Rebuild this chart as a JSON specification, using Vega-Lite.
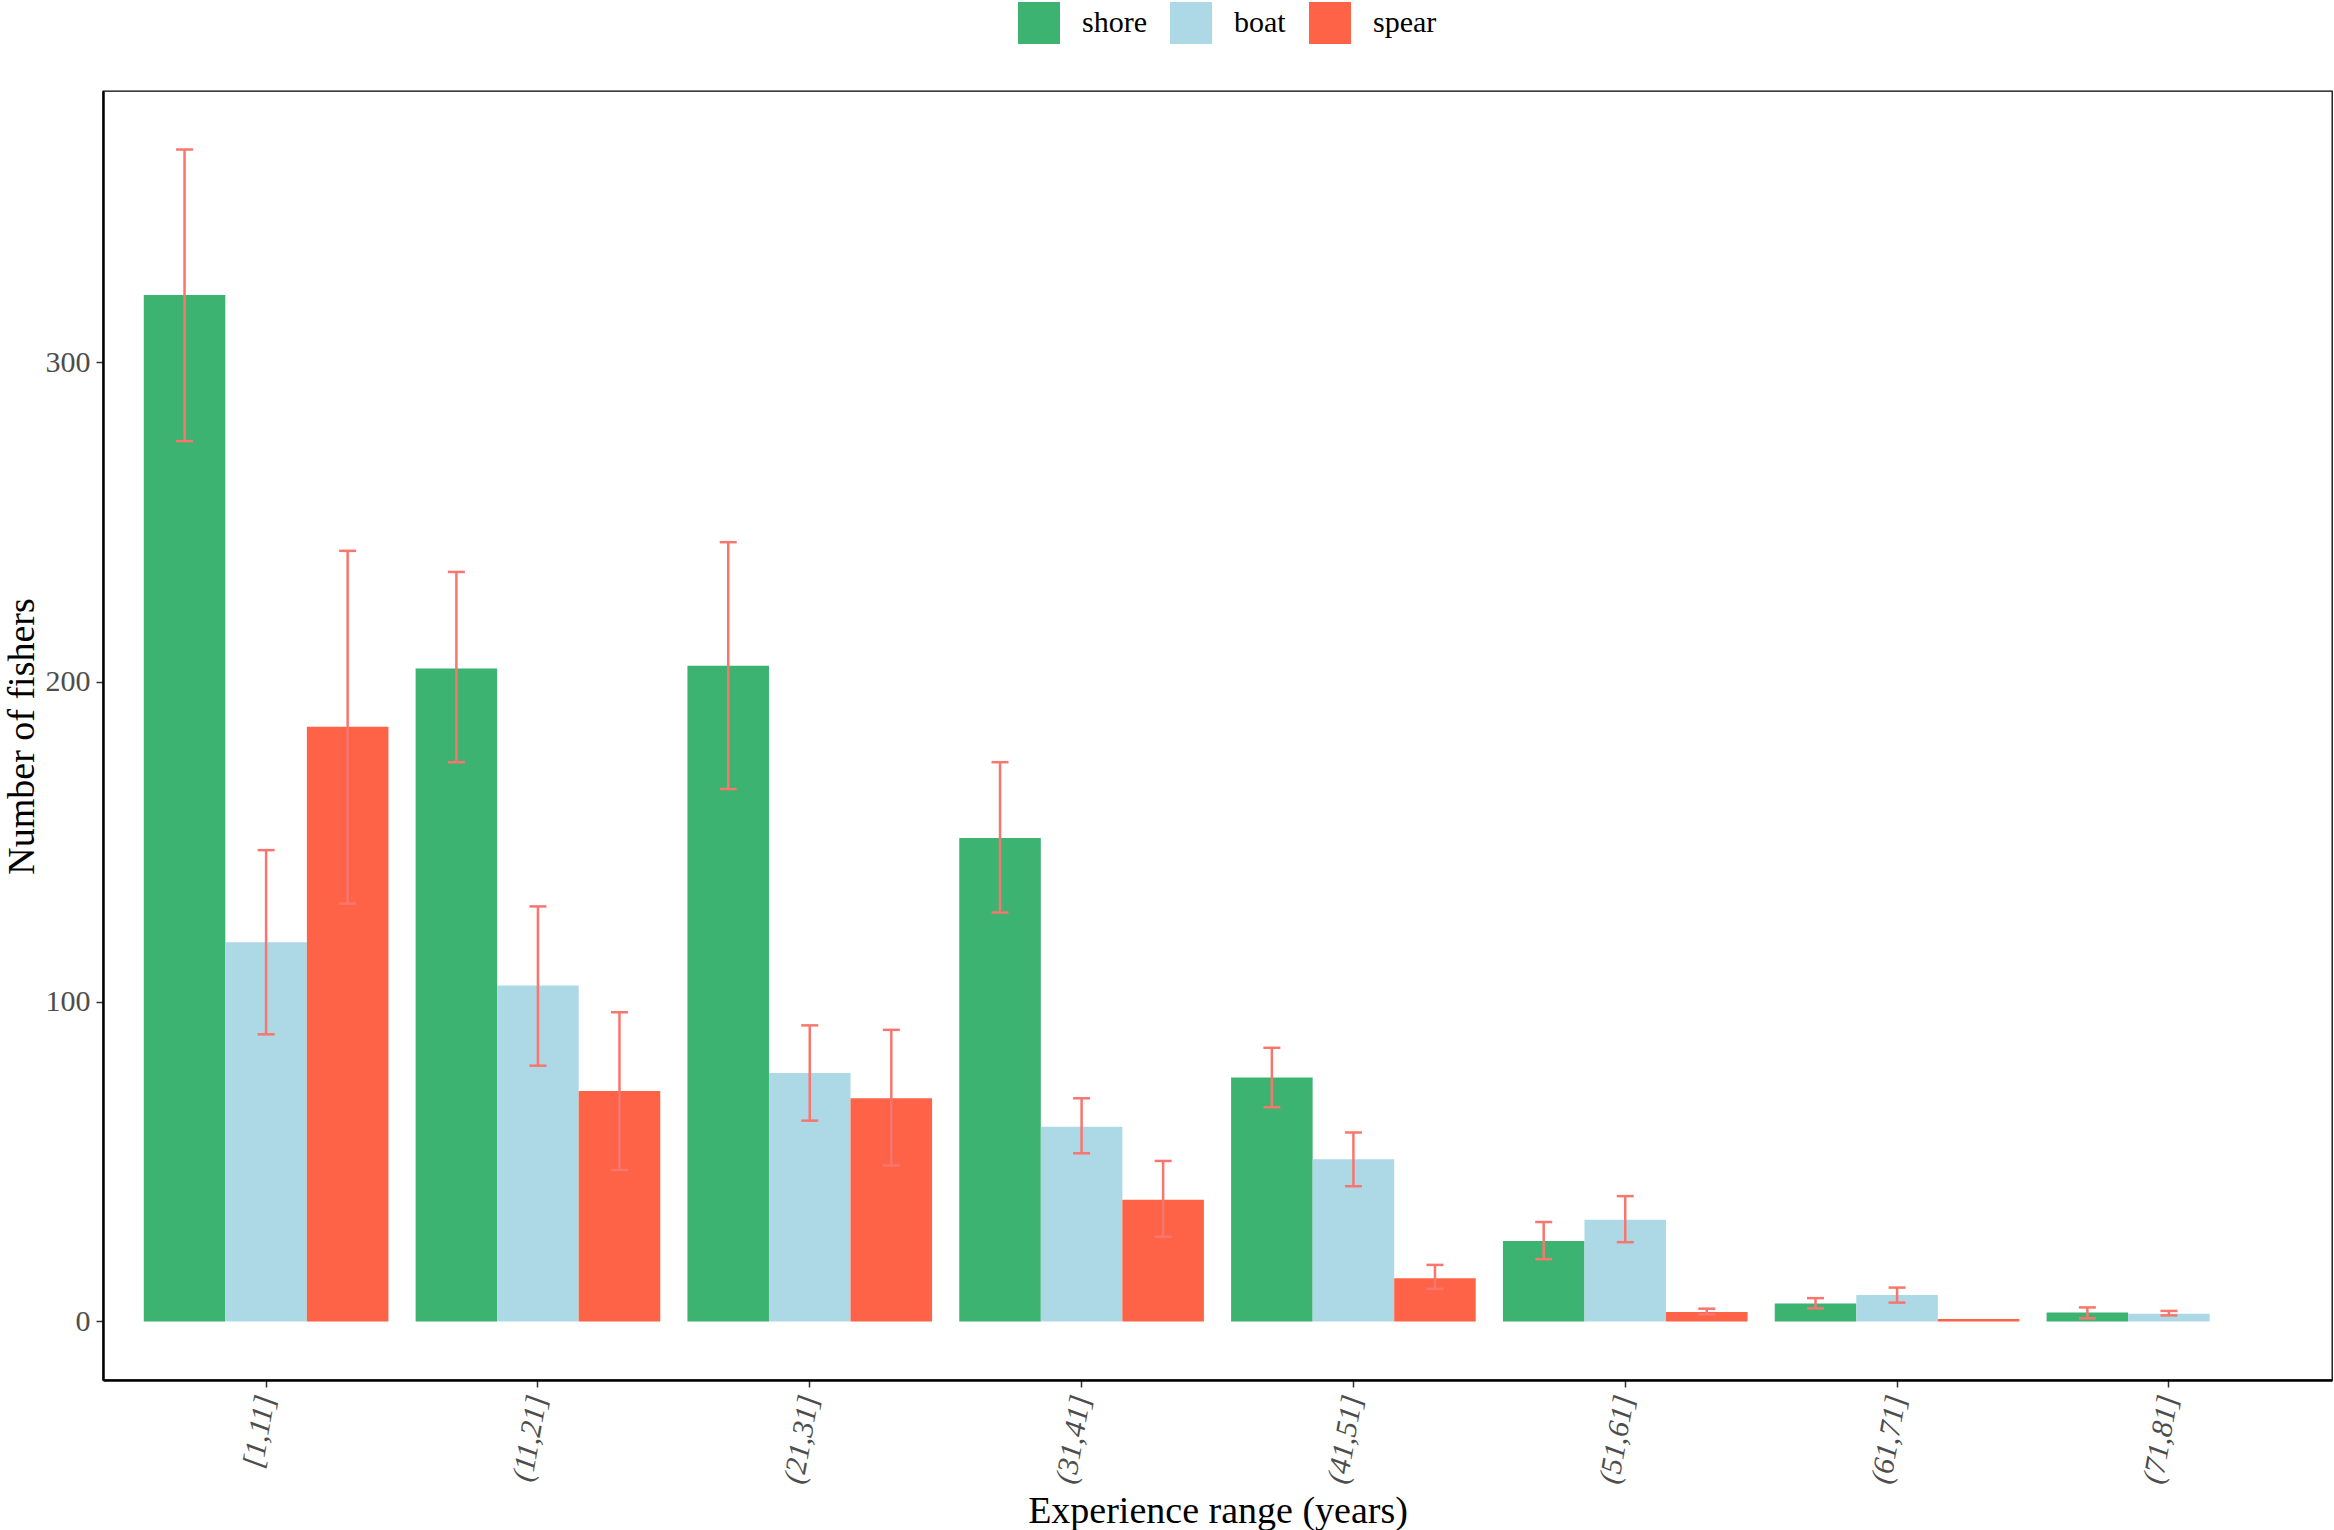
{
  "$schema": "https://vega.github.io/schema/vega-lite/v6.json",
  "width": 2229,
  "height": 1289,
  "autosize": {"type": "none"},
  "padding": {"left": 103, "top": 91, "right": 2, "bottom": 150},
  "background": "white",
  "config": {
    "font": "Liberation Serif",
    "view": {"stroke": "black", "strokeWidth": 1.3},
    "axis": {
      "grid": false,
      "domainColor": "black",
      "domainWidth": 2.5,
      "tickColor": "#333333",
      "tickWidth": 1.5,
      "tickSize": 7,
      "labelFont": "Liberation Serif",
      "labelFontSize": 30,
      "labelColor": "#4D4D4D",
      "titleFont": "Liberation Serif",
      "titleFontSize": 38,
      "titleFontWeight": "normal",
      "titleColor": "black"
    }
  },
  "data": {
    "values": [
      {"range": "[1,11]", "type": "shore", "n": 321, "lo": 275.3, "hi": 366.5},
      {"range": "[1,11]", "type": "boat", "n": 118.6, "lo": 89.8, "hi": 147.4},
      {"range": "[1,11]", "type": "spear", "n": 186, "lo": 130.7, "hi": 241},
      {"range": "(11,21]", "type": "shore", "n": 204.2, "lo": 174.9, "hi": 234.4},
      {"range": "(11,21]", "type": "boat", "n": 105.1, "lo": 80, "hi": 129.8},
      {"range": "(11,21]", "type": "spear", "n": 72.1, "lo": 47.4, "hi": 96.7},
      {"range": "(21,31]", "type": "shore", "n": 205.1, "lo": 166.5, "hi": 243.7},
      {"range": "(21,31]", "type": "boat", "n": 77.7, "lo": 62.8, "hi": 92.6},
      {"range": "(21,31]", "type": "spear", "n": 69.8, "lo": 48.8, "hi": 91.2},
      {"range": "(31,41]", "type": "shore", "n": 151.2, "lo": 127.9, "hi": 174.9},
      {"range": "(31,41]", "type": "boat", "n": 60.9, "lo": 52.6, "hi": 69.8},
      {"range": "(31,41]", "type": "spear", "n": 38.1, "lo": 26.5, "hi": 50.2},
      {"range": "(41,51]", "type": "shore", "n": 76.3, "lo": 67, "hi": 85.6},
      {"range": "(41,51]", "type": "boat", "n": 50.7, "lo": 42.3, "hi": 59.1},
      {"range": "(41,51]", "type": "spear", "n": 13.5, "lo": 10.2, "hi": 17.7},
      {"range": "(51,61]", "type": "shore", "n": 25.2, "lo": 19.5, "hi": 31.1},
      {"range": "(51,61]", "type": "boat", "n": 31.8, "lo": 24.8, "hi": 39.2},
      {"range": "(51,61]", "type": "spear", "n": 3, "lo": 2.2, "hi": 4},
      {"range": "(61,71]", "type": "shore", "n": 5.6, "lo": 4.1, "hi": 7.3},
      {"range": "(61,71]", "type": "boat", "n": 8.3, "lo": 5.9, "hi": 10.6},
      {"range": "(61,71]", "type": "spear", "n": 0.8, "lo": null, "hi": null},
      {"range": "(71,81]", "type": "shore", "n": 2.8, "lo": 1, "hi": 4.4},
      {"range": "(71,81]", "type": "boat", "n": 2.4, "lo": 1.9, "hi": 3.3}
    ]
  },
  "encoding": {
    "x": {
      "field": "range",
      "type": "nominal",
      "sort": null,
      "scale": {"paddingInner": 0.1, "paddingOuter": 0.15},
      "axis": {
        "title": "Experience range (years)",
        "labelAngle": -80,
        "labelAlign": "right",
        "labelBaseline": "middle",
        "labelPadding": 8,
        "labelFontStyle": "italic",
        "titleY": 142,
        "titleBaseline": "alphabetic"
      }
    },
    "xOffset": {
      "field": "type",
      "type": "nominal",
      "scale": {"domain": ["shore", "boat", "spear"], "paddingInner": 0, "paddingOuter": 0}
    }
  },
  "layer": [
    {
      "mark": {"type": "bar"},
      "encoding": {
        "y": {
          "field": "n",
          "type": "quantitative",
          "scale": {"domain": [-18.3, 384.8], "nice": false, "zero": false},
          "axis": {
            "title": "Number of fishers",
            "values": [0, 100, 200, 300],
            "labelPadding": 6,
            "titleAngle": -90,
            "titleX": -70,
            "titleY": 645,
            "titleAlign": "center",
            "titleBaseline": "alphabetic"
          }
        },
        "y2": {"datum": 0},
        "color": {
          "field": "type",
          "type": "nominal",
          "scale": {"domain": ["shore", "boat", "spear"], "range": ["#3CB371", "#ADD8E6", "#FF6347"]},
          "legend": {
            "title": null,
            "orient": "none",
            "direction": "horizontal",
            "legendX": 915,
            "legendY": -89,
            "symbolType": "square",
            "symbolSize": 1764,
            "symbolStrokeWidth": 0,
            "symbolOpacity": 1,
            "labelFontSize": 30,
            "labelColor": "black",
            "labelOffset": 22,
            "columnPadding": 23
          }
        }
      }
    },
    {
      "transform": [{"filter": "datum.lo != null"}],
      "mark": {"type": "rule", "color": "#F8766D", "strokeWidth": 2.5},
      "encoding": {
        "y": {"field": "lo", "type": "quantitative"},
        "y2": {"field": "hi"}
      }
    },
    {
      "transform": [{"filter": "datum.lo != null"}],
      "mark": {"type": "tick", "color": "#F8766D", "thickness": 2.5, "size": 17, "opacity": 1},
      "encoding": {
        "y": {"field": "lo", "type": "quantitative"}
      }
    },
    {
      "transform": [{"filter": "datum.hi != null"}],
      "mark": {"type": "tick", "color": "#F8766D", "thickness": 2.5, "size": 17, "opacity": 1},
      "encoding": {
        "y": {"field": "hi", "type": "quantitative"}
      }
    }
  ]
}
